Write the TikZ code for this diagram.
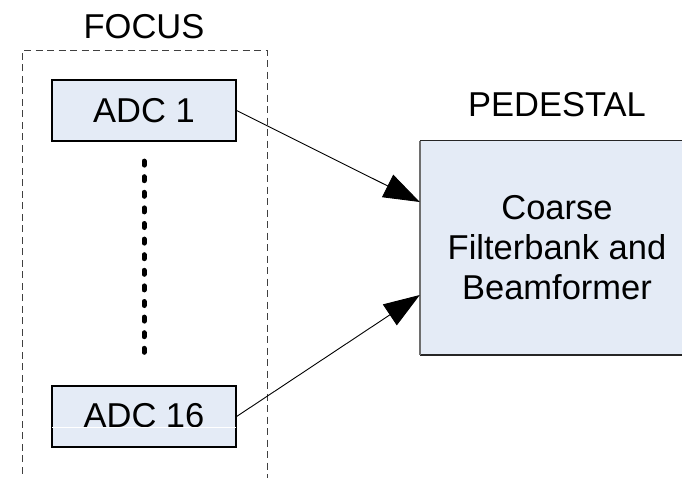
\documentclass[tikz,border=0pt]{standalone}
\usepackage{fontspec}
\setmainfont{Liberation Sans}
\usetikzlibrary{arrows.meta}

\definecolor{boxfill}{RGB}{228,235,246}
\definecolor{edgegray}{RGB}{110,110,110}

\begin{document}
\begin{tikzpicture}[x=1pt,y=-1pt,
    lbl/.style={font=\fontsize{34.5}{40}\selectfont, inner sep=0pt},
    adcbox/.style={draw=black, line width=1.2pt, fill=boxfill,
      minimum width=184pt, minimum height=61pt, inner sep=0pt,
      font=\fontsize{34.5}{40}\selectfont},
    link/.style={line width=0.9pt, -{Triangle[length=36pt,width=25pt]}},
    frame/.style={draw=black!75, line width=1pt, dash pattern=on 7pt off 4.5pt}
  ]
  \useasboundingbox (0,0) rectangle (682,477);
  \clip (0,0) rectangle (682,477);

  % FOCUS group outline (open at the bottom)
  \draw[frame] (22,485) -- (22,50) -- (267,50) -- (267,485);
  \node[lbl] (focus) at (144,27) {FOCUS};

  % ADC blocks
  \node[adcbox] (adc1) at (144,110.5) {ADC 1};
  \node[adcbox] (adc16) at (144,416.5) {\raisebox{3pt}{ADC 16}};
  \draw[white, line width=1pt] ([xshift=1pt,yshift=-11pt]adc16.west) -- ([xshift=-1pt,yshift=-11pt]adc16.east);

  % vertical ellipsis between the ADC blocks
  \draw[line width=5pt, line cap=round, dash pattern=on 4pt off 11.6pt,
        shorten <=19.5pt, shorten >=33pt] (adc1.south) -- (adc16.north);

  % PEDESTAL processing block
  \node[lbl] (pedlbl) at (557,105) {PEDESTAL};
  \node[fill=boxfill, minimum width=274pt, minimum height=214pt, inner sep=0pt,
        align=center, font=\fontsize{34.5}{40}\selectfont] (ped) at (557,248)
        {Coarse\\Filterbank and\\Beamformer};
  \draw[black!85, line width=1.3pt] (ped.north west) -- (ped.north east);
  \draw[black!85, line width=1.6pt] (ped.south west) -- (ped.south east);
  \draw[edgegray, line width=2pt] (ped.north west) -- (ped.south west);

  % connections
  \draw[link] (adc1.east) -- ([yshift=46pt]ped.west);
  \draw[link] (adc16.east) -- ([yshift=-47pt]ped.west);
\end{tikzpicture}
\end{document}
